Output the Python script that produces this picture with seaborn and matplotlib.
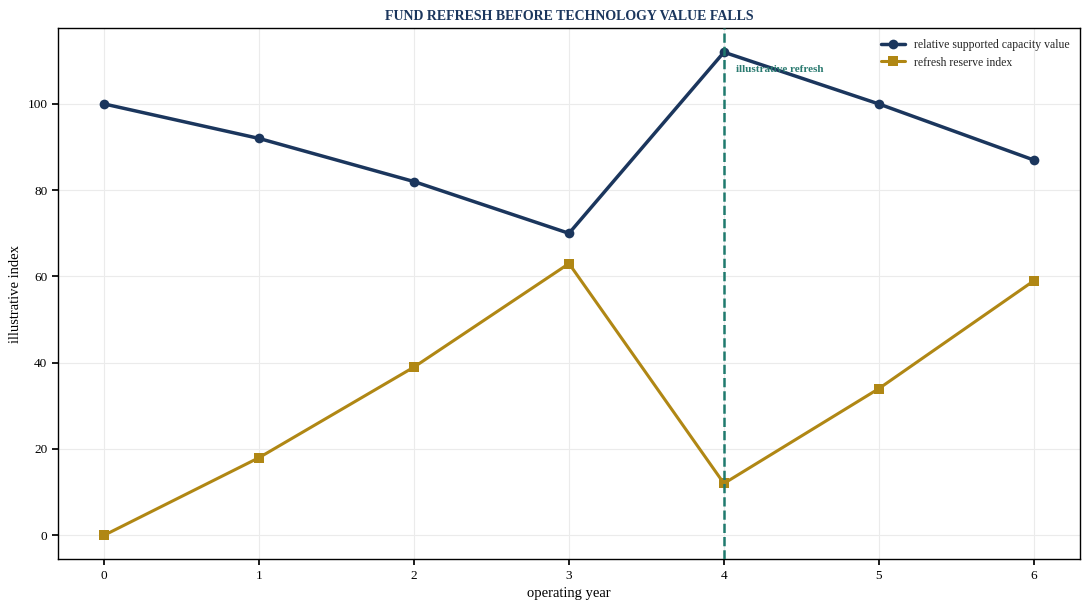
import pandas as pd
import matplotlib
matplotlib.use('Agg')
import matplotlib.pyplot as plt
import seaborn as sns

# values
years = [0, 1, 2, 3, 4, 5, 6]
capacity_value = [100, 92, 82, 70, 112, 100, 87]
reserve_index = [0, 18, 39, 63, 12, 34, 59]
refresh_year = 4

sns.set_theme(style='whitegrid')
plt.rcParams['font.family'] = ['Liberation Serif', 'DejaVu Serif']
plt.rcParams['axes.edgecolor'] = 'black'
plt.rcParams['grid.color'] = '#ebebeb'
plt.rcParams['grid.linewidth'] = 0.8

df = pd.DataFrame({'year': years,
                   'relative supported capacity value': capacity_value,
                   'refresh reserve index': reserve_index})

fig, ax = plt.subplots(figsize=(10.89, 6.1), dpi=100)

sns.lineplot(data=df, x='year', y='relative supported capacity value', ax=ax,
             color='#1b365d', linewidth=2.5, marker='o', markersize=7,
             markeredgewidth=0, label='relative supported capacity value')
sns.lineplot(data=df, x='year', y='refresh reserve index', ax=ax,
             color='#b08714', linewidth=2.2, marker='s', markersize=7,
             markeredgewidth=0, label='refresh reserve index')

ax.axvline(refresh_year, color='#1f7a6e', linestyle='--', linewidth=1.8, zorder=5)
ax.text(refresh_year + 0.08, 109, 'illustrative refresh', color='#2a7a70',
        fontsize=8, fontweight='bold', va='top')

for s in ax.spines.values():
    s.set_color('black')
    s.set_linewidth(1.0)
ax.tick_params(axis='both', which='both', length=4, color='black',
               labelsize=9.5, labelcolor='black', bottom=True, left=True)
ax.set_xlabel('operating year', fontsize=10.5, color='black')
ax.set_ylabel('illustrative index', fontsize=10.5, color='black')
ax.set_title('FUND REFRESH BEFORE TECHNOLOGY VALUE FALLS', fontsize=10,
             fontweight='bold', color='#1b365d')
ax.legend(loc='upper right', frameon=False, fontsize=8.5)

fig.subplots_adjust(left=0.053, right=0.992, top=0.954, bottom=0.083)
fig.savefig('out.png', dpi=100)
